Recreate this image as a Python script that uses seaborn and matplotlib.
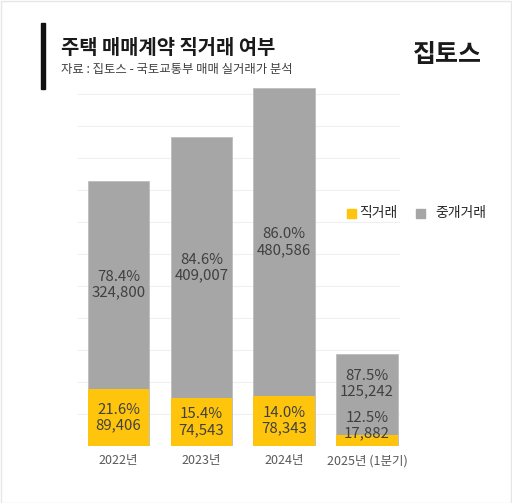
import numpy as np
import pandas as pd
import matplotlib
matplotlib.use("Agg")
import matplotlib.pyplot as plt
import seaborn as sns
from matplotlib.patches import Rectangle

years = ["2022년", "2023년", "2024년", "2025년 (1분기)"]
direct = [89406, 74543, 78343, 17882]
broker = [324800, 409007, 480586, 125242]
direct_pct = ["21.6%", "15.4%", "14.0%", "12.5%"]
broker_pct = ["78.4%", "84.6%", "86.0%", "87.5%"]

sns.set_style("white")
plt.rcParams["font.family"] = ["Noto Sans CJK KR", "DejaVu Sans"]

YELLOW = "#FFC50C"
GRAY = "#A6A6A6"

df = pd.DataFrame({"year": years, "direct": direct, "broker": broker})
df["total"] = df["direct"] + df["broker"]

W, H = 512, 503
fig = plt.figure(figsize=(W / 100, H / 100), dpi=100)
ax = fig.add_axes([78 / W, 57 / H, 322 / W, 368 / H])

# stacked bars: total (gray) behind, direct (yellow) in front
sns.barplot(data=df, x="year", y="total", color=GRAY, width=0.74, ax=ax,
            saturation=1, edgecolor="#BDBDBD", linewidth=0.6)
sns.barplot(data=df, x="year", y="direct", color=YELLOW, width=0.74, ax=ax,
            saturation=1, linewidth=0)

ax.set_xlim(-0.49, 3.4)
ax.set_ylim(0, 575000)
ax.set_yticks(np.arange(0, 575000, 50000))
ax.set_yticklabels([])
ax.yaxis.grid(True, color="#EFEFEF", linewidth=0.8)
ax.set_axisbelow(True)
ax.tick_params(axis="y", length=0)
ax.tick_params(axis="x", length=0, pad=6, labelsize=9, labelcolor="#595959")
ax.set_xlabel("")
ax.set_ylabel("")
for s in ax.spines.values():
    s.set_visible(False)

# value labels
for i in range(len(years)):
    d, b = direct[i], broker[i]
    yd = max(d / 2, 32000)
    yb = d + b / 2
    if i == 3:
        yb = d + b / 2 + 17000
    ax.text(i, yd, f"{direct_pct[i]}\n{d:,}", ha="center", va="center",
            fontsize=10.8, color="#404040", linespacing=1.15)
    ax.text(i, yb, f"{broker_pct[i]}\n{b:,}", ha="center", va="center",
            fontsize=10.8, color="#404040", linespacing=1.15)

# header
fig.add_artist(Rectangle((41 / W, 1 - 89 / H), 4 / W, 66 / H,
                         transform=fig.transFigure, color="#111111"))
fig.text(61 / W, 1 - 47 / H, "주택 매매계약 직거래 여부", fontsize=14.3,
         fontweight="bold", color="#1a1a1a", va="center")
fig.text(61 / W, 1 - 69 / H, "자료 : 집토스 - 국토교통부 매매 실거래가 분석",
         fontsize=8.9, color="#404040", va="center")
fig.text(482 / W, 1 - 55 / H, "집토스", fontsize=18, fontweight="bold",
         color="#1a1a1a", va="center", ha="right")

# legend
fig.add_artist(Rectangle((347 / W, 1 - 218 / H), 9 / W, 9 / H,
                         transform=fig.transFigure, color=YELLOW))
fig.text(359 / W, 1 - 213 / H, "직거래", fontsize=10, color="#262626", va="center")
fig.add_artist(Rectangle((416 / W, 1 - 218 / H), 9 / W, 9 / H,
                         transform=fig.transFigure, color=GRAY))
fig.text(435 / W, 1 - 213 / H, "중개거래", fontsize=10, color="#262626", va="center")

# outer frame
fig.add_artist(Rectangle((0.5 / W, 0.5 / H), 1 - 1.5 / W, 1 - 1.5 / H,
                         transform=fig.transFigure, fill=False,
                         edgecolor="#E6E6E6", linewidth=1))

plt.savefig("out.png", dpi=100)
